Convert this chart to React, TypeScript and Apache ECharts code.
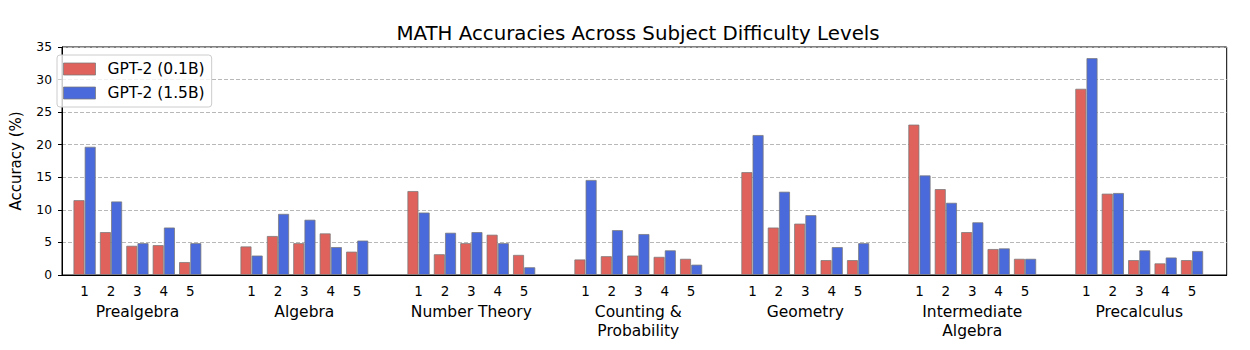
import React, { useEffect, useRef } from "react";
import * as echarts from "echarts";

const levels = ["1", "2", "3", "4", "5"];
const subjects = [
  "Prealgebra",
  "Algebra",
  "Number Theory",
  "Counting &\nProbability",
  "Geometry",
  "Intermediate\nAlgebra",
  "Precalculus",
];
const seriesNames = ["GPT-2 (0.1B)", "GPT-2 (1.5B)"];
// accuracy (%) per subject, levels 1..5
const gpt2Small = [
  [11.5, 6.6, 4.5, 4.6, 2.0],
  [4.4, 6.0, 4.9, 6.4, 3.6],
  [12.9, 3.2, 4.9, 6.2, 3.1],
  [2.4, 2.9, 3.0, 2.8, 2.5],
  [15.8, 7.3, 7.9, 2.3, 2.3],
  [23.1, 13.2, 6.6, 4.0, 2.5],
  [28.6, 12.5, 2.3, 1.8, 2.3],
];
const gpt2Large = [
  [19.7, 11.3, 4.9, 7.3, 4.9],
  [3.0, 9.4, 8.5, 4.3, 5.3],
  [9.6, 6.5, 6.6, 4.9, 1.2],
  [14.6, 6.9, 6.3, 3.8, 1.6],
  [21.5, 12.8, 9.2, 4.3, 4.9],
  [15.3, 11.1, 8.1, 4.1, 2.5],
  [33.3, 12.6, 3.8, 2.7, 3.7],
];
const yTicks = [0, 5, 10, 15, 20, 25, 30, 35];

const FONT = "DejaVu Sans";
const RED = "#E0625C";
const BLUE = "#4A69DB";

export default function App() {
  const ref = useRef<HTMLDivElement>(null);
  useEffect(() => {
    if (!ref.current) return;
    const chart = echarts.init(ref.current, undefined, { renderer: "svg" });
    const plotLeft = 49;
    const plotRight = 23.3;
    const plotTop = 47;
    const plotBottom = 75;
    const groupStart = 71.4;
    const groupStep = 166.97;
    const groupWidth = 132;
    const yMax = yTicks[yTicks.length - 1];

    const grids: any[] = [
      {
        left: plotLeft,
        right: plotRight,
        top: plotTop,
        bottom: plotBottom,
        show: true,
        borderColor: "#000",
        borderWidth: 1,
        backgroundColor: "transparent",
      },
    ];
    const xAxes: any[] = [
      {
        type: "value",
        gridIndex: 0,
        min: 0,
        max: 1,
        axisLine: { show: true, lineStyle: { color: "#000", width: 1 } },
        axisTick: { show: false },
        axisLabel: { show: false },
        splitLine: { show: false },
      },
    ];
    const yAxes: any[] = [
      {
        type: "value",
        gridIndex: 0,
        min: 0,
        max: yMax,
        interval: 5,
        name: "Accuracy (%)",
        nameLocation: "middle",
        nameGap: 39,
        nameTextStyle: { fontFamily: FONT, fontSize: 15, color: "#000" },
        axisLine: { show: true, lineStyle: { color: "#000", width: 1 } },
        axisTick: { show: true, inside: false, length: 4, lineStyle: { color: "#000" } },
        axisLabel: { fontFamily: FONT, fontSize: 12.3, color: "#000", margin: 10 },
        splitLine: {
          show: true,
          lineStyle: { color: "#b8b8b8", type: [4, 2], width: 1 },
        },
      },
    ];
    const series: any[] = [];
    subjects.forEach((subj, g) => {
      const idx = g + 1;
      grids.push({
        left: groupStart + groupStep * g,
        width: groupWidth,
        top: plotTop,
        bottom: plotBottom,
      });
      xAxes.push({
        type: "category",
        gridIndex: idx,
        data: levels,
        axisLine: { show: false },
        axisTick: { show: false },
        axisLabel: { fontFamily: FONT, fontSize: 13.5, color: "#000", margin: 9 },
        splitLine: { show: false },
        name: subj,
        nameLocation: "middle",
        nameGap: 20,
        nameTextStyle: {
          fontFamily: FONT,
          fontSize: 15.5,
          color: "#000",
          lineHeight: 18.5,
        },
      });
      yAxes.push({
        type: "value",
        gridIndex: idx,
        min: 0,
        max: yMax,
        show: false,
        splitLine: { show: false },
      });
      [gpt2Small, gpt2Large].forEach((arr, s) => {
        series.push({
          type: "bar",
          name: seriesNames[s],
          xAxisIndex: idx,
          yAxisIndex: idx,
          data: arr[g],
          barWidth: 11.2,
          barGap: "0%",
          itemStyle: {
            color: s === 0 ? RED : BLUE,
            borderColor: "rgba(120,120,120,0.75)",
            borderWidth: 1,
          },
        });
      });
    });

    chart.setOption({
      animation: false,
      backgroundColor: "#fff",
      title: {
        text: "MATH Accuracies Across Subject Difficulty Levels",
        left: 638,
        top: 23,
        textAlign: "center",
        padding: 0,
        textStyle: {
          fontFamily: FONT,
          fontSize: 19.8,
          fontWeight: "normal",
          color: "#000",
        },
      },
      legend: {
        data: seriesNames,
        orient: "vertical",
        left: 57,
        top: 55,
        padding: [6, 7, 6, 6],
        itemWidth: 32,
        itemHeight: 12,
        itemGap: 8,
        icon: "rect",
        backgroundColor: "rgba(255,255,255,0.8)",
        borderColor: "#cccccc",
        borderWidth: 1,
        borderRadius: 3,
        formatter: "{t|{name}}",
        textStyle: {
          fontFamily: FONT,
          fontSize: 15.5,
          color: "#000",
          lineHeight: 16,
          rich: {
            t: {
              fontFamily: FONT,
              fontSize: 15.5,
              color: "#000",
              lineHeight: 16,
              padding: [0, 0, 0, 7],
            },
          },
        },
        itemStyle: { borderColor: "rgba(120,120,120,0.75)", borderWidth: 1 },
      },
      grid: grids,
      xAxis: xAxes,
      yAxis: yAxes,
      series,
    });
    return () => chart.dispose();
  }, []);
  return (
    <div
      ref={ref}
      style={{ position: "fixed", left: 0, top: 0, width: 1250, height: 350 }}
    />
  );
}
